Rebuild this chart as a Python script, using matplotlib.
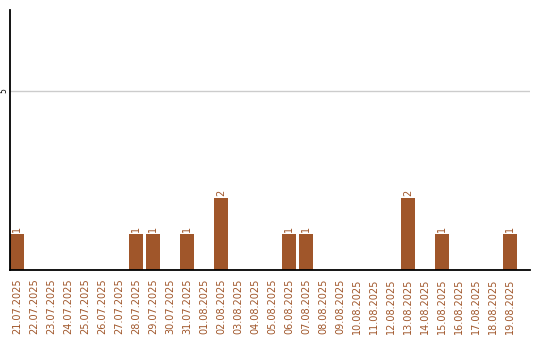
import matplotlib
matplotlib.use("Agg")
import matplotlib.pyplot as plt
import numpy as np

dates = ["21.07.2025", "22.07.2025", "23.07.2025", "24.07.2025", "25.07.2025",
         "26.07.2025", "27.07.2025", "28.07.2025", "29.07.2025", "30.07.2025",
         "31.07.2025", "01.08.2025", "02.08.2025", "03.08.2025", "04.08.2025",
         "05.08.2025", "06.08.2025", "07.08.2025", "08.08.2025", "09.08.2025",
         "10.08.2025", "11.08.2025", "12.08.2025", "13.08.2025", "14.08.2025",
         "15.08.2025", "16.08.2025", "17.08.2025", "18.08.2025", "19.08.2025"]
counts = [1, 0, 0, 0, 0, 0, 0, 1, 1, 0,
          1, 0, 2, 0, 0, 0, 1, 1, 0, 0,
          0, 0, 0, 2, 0, 1, 0, 0, 0, 1]

bar_color = "#a0562a"

fig = plt.figure(figsize=(5.4, 3.4), dpi=100)
ax = fig.add_axes([10 / 540, 70 / 340, 520 / 540, 260 / 340])

x = np.arange(len(dates))
width = 14 / 17
ax.bar(x, counts, width=width, align="edge", color=bar_color, zorder=3)

for xi, c in zip(x, counts):
    if c > 0:
        ax.text(xi + width / 2, c + 0.06, str(c), rotation=90, ha="center",
                va="bottom", fontsize=7, color=bar_color)

ax.set_xlim(0, 520 / 17)
ax.set_ylim(0, 7.26)
ax.set_yticks([5])
ax.set_yticklabels(["5"], rotation=90, va="center", fontsize=5.5)
ax.grid(axis="y", color="#cccccc", linewidth=1, zorder=0)

ax.set_xticks(x + width / 2)
ax.set_xticklabels(dates, rotation=90, fontsize=7, color=bar_color)
ax.tick_params(axis="x", length=0, pad=6)
ax.tick_params(axis="y", length=0, pad=1)

for side in ("top", "right"):
    ax.spines[side].set_visible(False)
for side in ("left", "bottom"):
    ax.spines[side].set_color("black")
    ax.spines[side].set_linewidth(1.3)
    ax.spines[side].set_zorder(4)

fig.savefig("out.png", dpi=100)
